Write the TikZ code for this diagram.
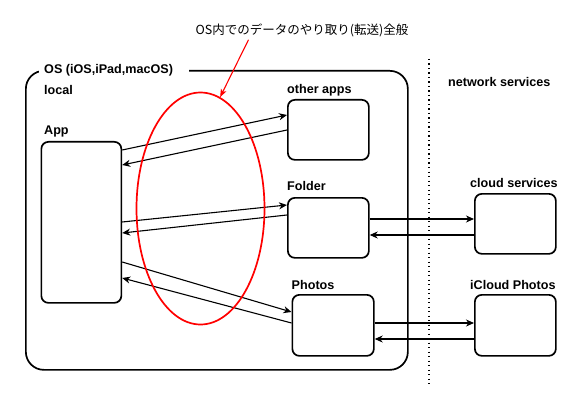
\documentclass[tikz,border=0pt]{standalone}
\usepackage{fontspec}
\setmainfont{Liberation Sans}
\newfontfamily\cjk{Noto Sans CJK JP}
\usetikzlibrary{arrows.meta,shapes.geometric}
\begin{document}
\begin{tikzpicture}[x=1pt,y=-1pt,
  font=\fontsize{12.6}{14}\selectfont\bfseries,
  box/.style={draw,line width=1.7pt,rounded corners=7pt,anchor=north west,inner sep=0pt},
  arr/.style={line width=1.1pt,-{Stealth[length=8pt,width=7pt,inset=2.5pt]}},
  lbl/.style={anchor=west,inner sep=0pt}]
\useasboundingbox (0,0) rectangle (586,401);
% outer OS box
\node[draw,line width=1.7pt,rounded corners=18pt,anchor=north west,inner sep=0pt,
  minimum width=382pt,minimum height=299pt] (os) at (25,70) {};
\node[fill=white,anchor=west,inner sep=0pt,minimum height=12pt] (oslbl) at (39,70)
  {\kern5pt OS (iOS,iPad,macOS)\kern16pt};
\node[lbl] (local) at (44,90) {local};
% dotted separator
\coordinate (dtop) at (429,59);
\coordinate (dbot) at (429,385);
\draw[line width=1.3pt,dash pattern=on 1.3pt off 3.2pt] (dtop) -- (dbot);
\node[lbl] (net) at (448,82) {network services};
% boxes
\node[box,minimum width=80pt,minimum height=161pt] (app) at (40.5,141) {};
\node[lbl] (applbl) at (44,131) {App};
\node[box,minimum width=81pt,minimum height=60pt] (other) at (287,99) {};
\node[lbl] (otherlbl) at (287,90) {other apps};
\node[box,minimum width=81pt,minimum height=60pt] (folder) at (287,197) {};
\node[lbl] (folderlbl) at (287,186) {Folder};
\node[box,minimum width=81.5pt,minimum height=61pt] (photos) at (291.5,294) {};
\node[lbl] (photoslbl) at (291.5,285) {Photos};
\node[box,minimum width=81pt,minimum height=60pt] (cloud) at (474,193) {};
\node[lbl] (cloudlbl) at (470,183) {cloud services};
\node[box,minimum width=81pt,minimum height=61pt] (icloud) at (474,294) {};
\node[lbl] (icloudlbl) at (470,285) {iCloud Photos};
% arrows
\draw[arr] ([yshift=-9pt]app.north east) -- ([yshift=-16pt]other.north west);
\draw[arr] ([yshift=-31pt]other.north west) -- ([yshift=-24pt]app.north east);
\draw[arr] ([yshift=-81pt]app.north east) -- ([yshift=-8pt]folder.north west);
\draw[arr] ([yshift=-18pt]folder.north west) -- ([yshift=-92pt]app.north east);
\draw[arr] ([yshift=-22pt]folder.north east) -- ([yshift=-26pt]cloud.north west);
\draw[arr] ([yshift=-42pt]cloud.north west) -- ([yshift=-38pt]folder.north east);
\draw[arr] ([yshift=-121pt]app.north east) -- ([yshift=-18pt]photos.north west);
\draw[arr] ([yshift=-29pt]photos.north west) -- ([yshift=-137pt]app.north east);
\draw[arr] ([yshift=-29pt]photos.north east) -- ([yshift=-29pt]icloud.north west);
\draw[arr] ([yshift=-45pt]icloud.north west) -- ([yshift=-45pt]photos.north east);
% red ellipse and note
\node[draw=red,line width=1.7pt,ellipse,inner sep=0pt,minimum width=128pt,minimum height=232pt] (ell) at (200.5,208.5) {};
\node[inner sep=0pt,font=\fontsize{12.5}{14}\selectfont\cjk] (note) at (302,30) {OS内でのデータのやり取り(転送)全般};
\draw[red,line width=1.1pt,-{Stealth[length=8pt,width=6pt,inset=2pt]}] ([xshift=-53.5pt,yshift=-3pt]note.south) -- (ell.80);
\end{tikzpicture}
\end{document}
